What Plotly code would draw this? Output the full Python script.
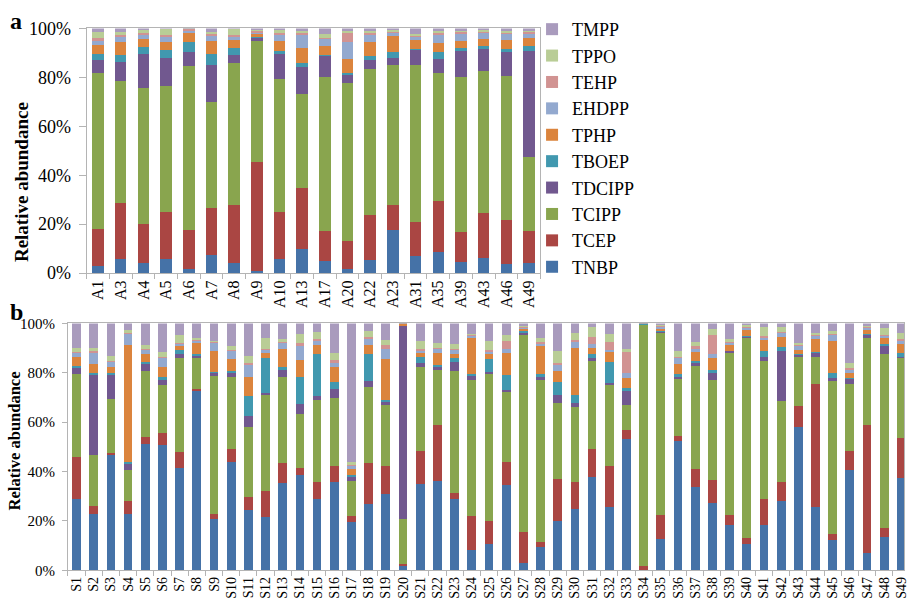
import plotly.graph_objects as go

# ---------------- data ----------------
compounds = ["TNBP", "TCEP", "TCIPP", "TDCIPP", "TBOEP", "TPHP", "EHDPP", "TEHP", "TPPO", "TMPP"]
colors = ["#4572A7", "#AA4643", "#89A54E", "#71588F", "#4198AF",
          "#DB843D", "#93A9CF", "#D19392", "#B9CD96", "#A99BBD"]

sites_a = ["A1", "A3", "A4", "A5", "A6", "A7", "A8", "A9", "A10", "A13",
           "A17", "A20", "A22", "A23", "A31", "A35", "A39", "A43", "A46", "A49"]

tnbp_a = [3.0, 5.7, 4.0, 5.7, 1.7, 7.3, 4.0, 0.9, 5.8, 9.8, 5.0, 1.7, 5.5, 17.5, 6.9, 8.7, 4.6, 6.3, 3.6, 4.0]
tcep_a = [15.2, 22.8, 16.1, 19.1, 15.8, 19.2, 23.8, 44.6, 19.0, 25.0, 12.3, 11.6, 18.4, 10.3, 14.1, 20.9, 12.4, 18.2, 18.2, 13.3]
tcipp_a = [63.5, 50.0, 55.4, 51.5, 67.2, 43.6, 58.0, 49.2, 54.6, 38.3, 62.9, 64.4, 59.5, 57.2, 64.0, 52.3, 63.1, 58.0, 58.9, 30.2]
tdcipp_a = [5.2, 7.9, 14.1, 11.7, 5.7, 14.9, 3.5, 1.5, 10.3, 11.3, 8.6, 3.3, 3.8, 2.9, 6.3, 5.6, 10.8, 9.3, 9.5, 43.1]
tboep_a = [2.8, 2.8, 2.9, 3.2, 3.9, 4.6, 2.8, 0.2, 0.9, 1.6, 0.2, 0.9, 1.7, 2.3, 0.4, 2.7, 0.9, 0.8, 1.2, 2.0]
tphp_a = [3.6, 5.1, 3.0, 3.1, 4.0, 5.3, 3.0, 1.2, 4.3, 6.1, 3.6, 5.6, 5.4, 6.6, 3.6, 3.7, 3.1, 3.0, 3.9, 3.3]
ehdpp_a = [1.4, 2.1, 2.0, 2.1, 0.8, 2.1, 1.6, 0.7, 2.3, 5.1, 3.0, 6.8, 2.9, 1.2, 1.4, 3.3, 2.7, 2.7, 2.3, 2.0]
tehp_a = [1.5, 0.8, 0.7, 0.8, 0.5, 0.6, 0.5, 0.5, 1.1, 0.8, 0.3, 4.0, 1.1, 0.5, 0.3, 0.8, 0.8, 0.4, 0.7, 0.5]
tppo_a = [2.3, 1.3, 1.0, 2.5, 0.1, 1.1, 2.4, 0.5, 0.9, 0.8, 1.7, 0.6, 0.5, 0.7, 0.8, 0.8, 0.7, 0.5, 0.6, 0.7]
tmpp_a = [1.5, 1.5, 0.8, 0.3, 0.3, 1.3, 0.4, 0.7, 0.8, 1.2, 2.4, 1.1, 1.2, 0.8, 2.2, 1.2, 0.9, 0.8, 1.1, 0.9]

sites_b = ["S%d" % i for i in range(1, 50)]

tnbp_b = [29.1, 22.8, 46.6, 22.8, 51.2, 50.8, 41.3, 72.8, 20.9, 43.9,
          24.5, 21.5, 35.4, 38.8, 28.9, 35.8, 19.6, 26.8, 30.8, 1.8,
          35.0, 36.3, 28.7, 8.2, 10.8, 34.7, 3.0, 9.3, 20.1, 24.9,
          37.7, 25.8, 53.3, 0.3, 12.8, 52.2, 33.7, 27.2, 18.3, 10.7,
          18.3, 28.2, 58.2, 25.8, 12.5, 40.7, 7.0, 13.4, 37.3]
tcep_b = [16.7, 3.3, 0.9, 5.3, 3.0, 4.9, 6.5, 0.8, 1.8, 5.4,
          5.3, 10.5, 8.2, 2.7, 6.7, 6.5, 2.6, 16.5, 11.6, 0.8,
          13.3, 22.7, 2.8, 13.7, 9.0, 9.0, 12.4, 2.2, 17.1, 11.0,
          11.6, 16.4, 3.5, 1.5, 9.5, 2.1, 7.3, 9.5, 4.2, 2.5,
          10.4, 7.4, 8.4, 49.8, 2.1, 7.6, 51.7, 3.8, 16.2]
tcipp_b = [33.8, 20.6, 21.8, 12.6, 26.5, 19.5, 38.2, 12.6, 56.0, 28.8,
           28.4, 39.1, 34.7, 21.9, 33.2, 27.3, 13.8, 31.1, 24.4, 18.4,
           34.2, 22.2, 49.4, 55.0, 59.8, 28.5, 79.9, 65.5, 30.7, 30.4,
           35.6, 32.7, 10.2, 97.7, 73.7, 23.1, 41.6, 40.3, 65.4, 80.8,
           56.2, 33.1, 19.6, 10.6, 62.2, 27.2, 35.3, 70.3, 32.4]
tdcipp_b = [2.4, 32.3, 9.7, 2.6, 3.0, 2.0, 1.7, 0.7, 1.2, 1.8,
            4.2, 0.7, 3.0, 3.8, 1.8, 3.8, 1.9, 2.4, 1.2, 78.0,
            1.4, 1.0, 3.3, 2.0, 0.8, 0.9, 1.0, 1.3, 3.0, 1.5,
            1.0, 0.8, 5.8, 0.1, 0.7, 0.9, 1.3, 2.8, 0.9, 0.5,
            1.3, 20.3, 1.0, 1.8, 1.0, 2.0, 1.4, 3.2, 0.7]
tboep_b = [0.6, 0.8, 0.9, 0.4, 0.5, 0.9, 1.6, 0.7, 0.5, 0.9,
           8.1, 14.1, 0.9, 11.1, 17.1, 2.8, 0.7, 10.9, 0.9, 0.1,
           2.5, 1.1, 1.7, 0.5, 5.2, 6.0, 0.7, 1.1, 5.2, 3.3,
           1.8, 8.6, 1.1, 0.1, 0.4, 1.3, 1.0, 1.5, 0.2, 0.5,
           2.6, 1.5, 0.5, 0.5, 2.0, 0.3, 0.3, 0.8, 1.3]
tphp_b = [4.0, 3.8, 2.6, 47.7, 3.5, 4.4, 1.7, 4.3, 8.6, 4.6,
          7.8, 2.2, 7.6, 6.9, 3.7, 6.0, 2.5, 3.4, 16.7, 0.6,
          1.7, 4.6, 1.8, 14.6, 1.9, 8.9, 0.7, 11.5, 4.6, 19.1,
          2.4, 4.0, 3.9, 0.2, 0.8, 4.0, 3.4, 4.6, 2.1, 2.4,
          4.3, 3.8, 1.5, 5.2, 12.9, 2.1, 1.6, 2.5, 3.9]
ehdpp_b = [1.5, 4.5, 2.0, 4.2, 1.6, 3.7, 0.5, 0.9, 2.9, 3.4,
           5.0, 1.2, 2.1, 5.7, 1.7, 2.0, 1.2, 2.6, 4.1, 0.1,
           0.7, 1.7, 1.6, 0.8, 0.9, 1.7, 0.5, 0.9, 2.3, 2.5,
           1.5, 1.1, 2.1, 0.05, 0.5, 2.3, 1.3, 1.6, 0.9, 0.9,
           1.2, 1.8, 1.5, 1.3, 2.6, 1.4, 0.7, 0.8, 1.3]
tehp_b = [0.5, 0.7, 0.4, 0.5, 0.5, 0.4, 0.4, 0.5, 0.5, 0.5,
          0.5, 0.5, 0.7, 1.3, 0.6, 0.8, 0.5, 0.7, 1.7, 0.1,
          0.8, 0.6, 0.5, 0.5, 0.8, 3.0, 0.2, 0.5, 0.8, 0.6,
          2.9, 3.0, 8.5, 0.05, 0.4, 0.7, 1.1, 7.9, 0.7, 0.4,
          0.7, 0.5, 0.6, 0.4, 0.5, 0.7, 0.4, 0.5, 0.6]
tppo_b = [1.6, 1.4, 1.8, 1.3, 1.6, 1.7, 3.4, 0.8, 0.5, 1.4,
          3.0, 4.2, 0.9, 3.5, 2.9, 3.0, 0.9, 2.7, 1.9, 0.1,
          3.3, 1.7, 2.0, 0.5, 3.7, 2.5, 0.7, 1.8, 5.0, 3.0,
          4.2, 3.3, 1.2, 0.05, 0.4, 2.2, 1.7, 2.3, 0.8, 0.6,
          3.7, 2.1, 0.9, 0.7, 1.3, 1.9, 0.7, 3.0, 2.6]
tmpp_b = [9.8, 9.8, 13.3, 2.6, 8.6, 11.7, 4.7, 5.9, 7.1, 9.3,
          13.2, 6.0, 6.5, 4.3, 3.4, 12.0, 56.3, 2.9, 6.7, 0.1,
          7.1, 8.1, 8.2, 4.2, 7.1, 4.8, 0.9, 5.9, 11.2, 3.7,
          1.3, 4.3, 10.4, 0.05, 0.8, 11.2, 7.6, 2.3, 6.5, 0.7,
          1.3, 1.3, 7.8, 3.9, 2.9, 16.1, 0.9, 1.7, 3.7]

y_ticks = [0, 20, 40, 60, 80, 100]
y_tick_labels = ["%d%%" % v for v in y_ticks]

series_a = [tnbp_a, tcep_a, tcipp_a, tdcipp_a, tboep_a, tphp_a, ehdpp_a, tehp_a, tppo_a, tmpp_a]
series_b = [tnbp_b, tcep_b, tcipp_b, tdcipp_b, tboep_b, tphp_b, ehdpp_b, tehp_b, tppo_b, tmpp_b]

# ---------------- figure ----------------
W, H = 909, 612
FONT = "Liberation Serif, Times New Roman, serif"
AX_COLOR = "#B4B4B4"

fig = go.Figure()
for name, col, va, vb in zip(compounds, colors, series_a, series_b):
    fig.add_trace(go.Bar(x=sites_a, y=va, name=name, marker=dict(color=col, line=dict(width=0)),
                         xaxis="x", yaxis="y", legendgroup=name, showlegend=True))
    fig.add_trace(go.Bar(x=sites_b, y=vb, name=name, marker=dict(color=col, line=dict(width=0)),
                         xaxis="x2", yaxis="y2", legendgroup=name, showlegend=False))

def px_x(p):
    return p / W

def px_y(p):
    return 1 - p / H

common_x = dict(type="category", showline=True, linecolor=AX_COLOR, linewidth=1,
                mirror=True, ticks="outside", tickson="boundaries", ticklen=5,
                tickcolor=AX_COLOR, tickangle=-90, showgrid=False, zeroline=False)
common_y = dict(range=[0, 100], tickmode="array", tickvals=y_ticks, ticktext=y_tick_labels,
                showline=True, linecolor=AX_COLOR, linewidth=1, mirror=True, ticks="outside",
                tickcolor=AX_COLOR, showgrid=False, zeroline=False, ticklabelstandoff=4)

fig.update_layout(
    width=W, height=H,
    margin=dict(l=0, r=0, t=0, b=0),
    paper_bgcolor="white", plot_bgcolor="white",
    barmode="stack", barnorm="percent", bargap=0.49,
    font=dict(family=FONT, color="#000000"),
    xaxis=dict(common_x, domain=[px_x(87.1), px_x(543.4)], anchor="y",
               tickfont=dict(size=16)),
    yaxis=dict(common_y, domain=[px_y(272), px_y(19)], anchor="x",
               ticklen=7, tickfont=dict(size=18)),
    xaxis2=dict(common_x, domain=[px_x(68.3), 1.0], anchor="y2",
                range=[-0.5, 48.15], tickfont=dict(size=14)),
    yaxis2=dict(common_y, domain=[px_y(579.3), px_y(324)], anchor="x2",
                ticklen=5, tickfont=dict(size=15)),
    legend=dict(x=px_x(535), y=px_y(1), xanchor="left", yanchor="top",
                traceorder="reversed", font=dict(size=18, family=FONT),
                bgcolor="rgba(0,0,0,0)", tracegroupgap=0),
    annotations=[
        dict(text="<b>a</b>", x=px_x(8), y=px_y(11), xref="paper", yref="paper",
             xanchor="left", yanchor="middle", showarrow=False,
             font=dict(size=24, family=FONT)),
        dict(text="<b>b</b>", x=px_x(8), y=px_y(312), xref="paper", yref="paper",
             xanchor="left", yanchor="middle", showarrow=False,
             font=dict(size=24, family=FONT)),
        dict(text="<b>Relative abundance</b>", x=px_x(21), y=px_y(178), xref="paper", yref="paper",
             xanchor="center", yanchor="middle", textangle=-90, showarrow=False,
             font=dict(size=19, family=FONT)),
        dict(text="<b>Relative abundance</b>", x=px_x(15), y=px_y(445), xref="paper", yref="paper",
             xanchor="center", yanchor="middle", textangle=-90, showarrow=False,
             font=dict(size=16.5, family=FONT)),
    ],
)

fig.write_html("out.html")
